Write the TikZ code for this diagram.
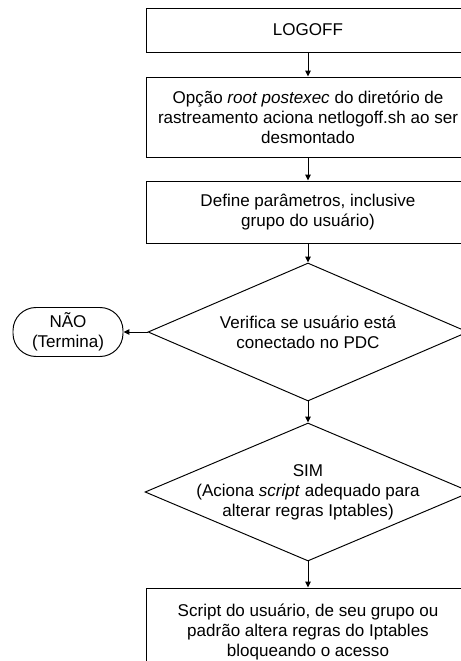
\documentclass[tikz,border=0pt]{standalone}
\usepackage{fontspec}
\setmainfont{Liberation Sans}
\usetikzlibrary{shapes.geometric,arrows.meta}

\begin{document}
\begin{tikzpicture}[x=0.02cm,y=-0.02cm,
    font=\fontsize{9.7}{11.4}\selectfont,
    line width=0.55pt,
    caixa/.style={draw,rectangle,minimum width=6.48cm,align=center,inner sep=0pt},
    decisao/.style={draw,diamond,inner sep=0pt,minimum width=6.4cm,minimum height=2.76cm},
    terminal/.style={draw,rectangle,rounded corners=0.46cm,minimum width=2.2cm,minimum height=0.98cm,align=center,inner sep=0pt},
    texto/.style={align=center,inner sep=0pt},
    seta/.style={-{Triangle[length=1.2mm,width=1.1mm]}}]
    \useasboundingbox (0,0) rectangle (460,661);
    % caixas do fluxo
    \node[caixa,minimum height=0.88cm] (logoff) at (308,30) {LOGOFF};
    \node[caixa,minimum height=1.6cm] (rastreio) at (308,117)
        {Opção \textit{root postexec} do diretório de\\rastreamento aciona netlogoff.sh ao ser\\desmontado};
    \node[caixa,minimum height=1.24cm] (param) at (308,212)
        {Define parâmetros, inclusive\\grupo do usuário)};
    % decisoes
    \node[decisao] (verifica) at (308,332) {};
    \node[texto] (verificatxt) at (verifica) {Verifica se usuário está\\conectado no PDC};
    \node[terminal] (nao) at (68,332) {NÃO\\(Termina)};
    \node[decisao,minimum width=6.52cm] (sim) at (308,492) {};
    \node[texto] (simtxt) at (sim) {SIM\\(Aciona \textit{script} adequado para\\alterar regras Iptables)};
    \node[caixa,minimum height=1.76cm] (script) at (308,632)
        {Script do usuário, de seu grupo ou\\padrão altera regras do Iptables\\bloqueando o acesso};
    % conectores
    \draw[seta] (logoff) -- (rastreio);
    \draw[seta] (rastreio) -- (param);
    \draw[seta] (param) -- (verifica.north);
    \draw[seta] (verifica.west) -- (nao);
    \draw[seta] (verifica.south) -- (sim.north);
    \draw[seta] (sim.south) -- (script);
\end{tikzpicture}
\end{document}
